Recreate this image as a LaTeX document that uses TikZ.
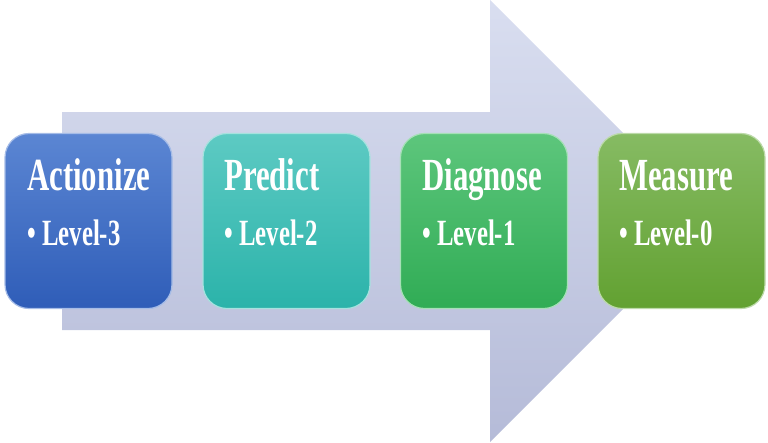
\documentclass[tikz,border=0pt]{standalone}
\usepackage{fontspec}
\newfontfamily\stagefont{Liberation Serif}[FakeStretch=0.67]
\definecolor{arrowTop}{HTML}{D9DEF0}
\definecolor{arrowBot}{HTML}{B5BBD8}
\definecolor{actTop}{HTML}{5B86D3}
\definecolor{actBot}{HTML}{2F5DB8}
\definecolor{preTop}{HTML}{5DCAC3}
\definecolor{preBot}{HTML}{2BB3AA}
\definecolor{diaTop}{HTML}{5DC67C}
\definecolor{diaBot}{HTML}{30AC55}
\definecolor{meaTop}{HTML}{86BB63}
\definecolor{meaBot}{HTML}{62A131}
\tikzset{
	stagebox/.style={rounded corners=24pt,minimum width=167pt,minimum height=175pt,inner sep=0pt,line width=1.2pt},
	titletext/.style={anchor=base west,inner sep=0pt,text=white,font=\stagefont\bfseries\fontsize{46}{46}\selectfont},
	leveltext/.style={anchor=base west,inner sep=0pt,text=white,font=\stagefont\bfseries\fontsize{37}{37}\selectfont}
}
\begin{document}
\begin{tikzpicture}[x=1pt,y=-1pt]
	\useasboundingbox (0,0) rectangle (768,442);
	%BIG ARROW
	\shade[top color=arrowTop,bottom color=arrowBot] (62,112)--(490,112)--(490,0)--(711,221)--(490,442)--(490,330)--(62,330)--cycle;
	
	%BOXES
	\node[stagebox,top color=actTop,bottom color=actBot,draw=actTop!55!white] (act) at (88.5,221) {};
	\node[stagebox,top color=preTop,bottom color=preBot,draw=preTop!55!white] (pre) at (286.5,221) {};
	\node[stagebox,top color=diaTop,bottom color=diaBot,draw=diaTop!55!white] (dia) at (484,221) {};
	\node[stagebox,top color=meaTop,bottom color=meaBot,draw=meaTop!55!white] (mea) at (681.5,221) {};
	
	%CAPTIONS
	\node[titletext] (actTitle) at (27,190) {Actionize};
	\node[leveltext] (actLevel) at (27,245) {• Level-3};
	%
	\node[titletext] (preTitle) at (224,190) {Predict};
	\node[leveltext] (preLevel) at (224,245) {• Level-2};
	%
	\node[titletext] (diaTitle) at (422,190) {Diagnose};
	\node[leveltext] (diaLevel) at (422,245) {• Level-1};
	%
	\node[titletext] (meaTitle) at (619,190) {Measure};
	\node[leveltext] (meaLevel) at (619,245) {• Level-0};
\end{tikzpicture}
\end{document}
